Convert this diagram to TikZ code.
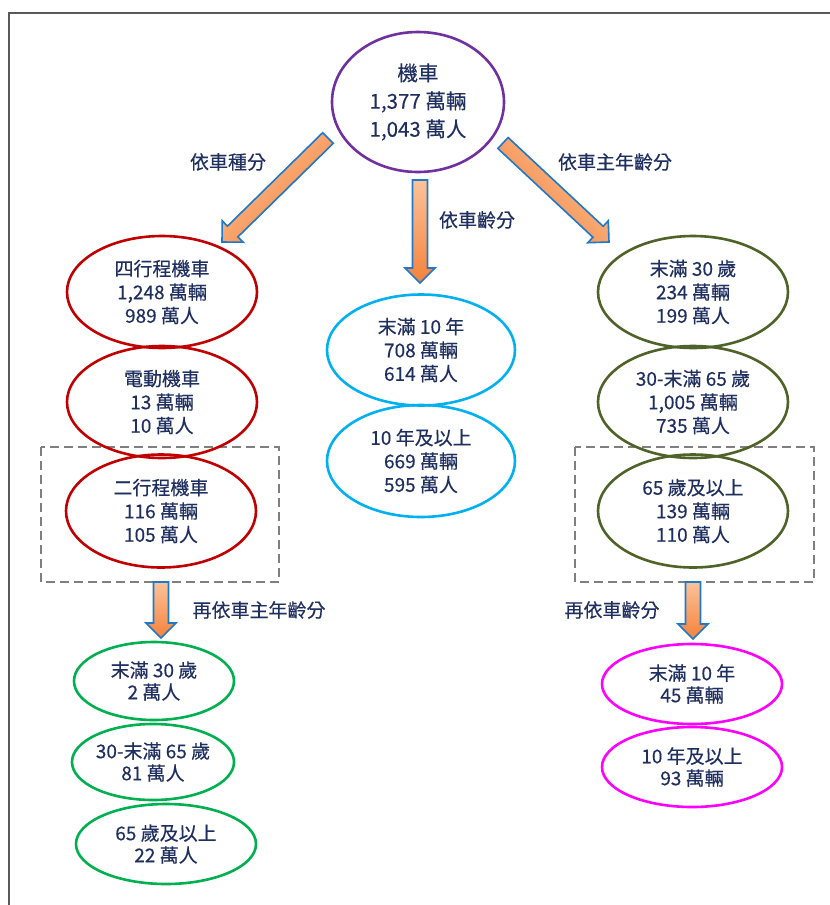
\documentclass[tikz,border=0pt]{standalone}
\usepackage{fontspec}
\setmainfont{Noto Sans CJK TC}
\newfontfamily\cjkm{Noto Sans CJK TC}[FakeBold=0.3]
\usetikzlibrary{shapes.geometric,calc}
\definecolor{txt}{HTML}{1F2F5F}
\definecolor{purplec}{HTML}{7030A0}
\definecolor{redc}{HTML}{C00000}
\definecolor{cyanc}{HTML}{00B0F0}
\definecolor{olivec}{HTML}{4F6228}
\definecolor{greenc}{HTML}{00B050}
\definecolor{magc}{HTML}{FF00FF}
\definecolor{dashc}{HTML}{7F7F7F}
\definecolor{framec}{HTML}{595959}
\definecolor{arrline}{HTML}{1F78C8}
\definecolor{arrlight}{HTML}{FBC29A}
\definecolor{arrdark}{HTML}{F5823A}
\tikzset{
  ell/.style={ellipse, line width=2.6pt, inner sep=0pt, align=center, text=txt,
    font=\cjkm\fontsize{19}{23.5}\selectfont},
  lbl/.style={text=txt, inner sep=0pt, font=\cjkm\fontsize{19}{23}\selectfont},
  fat/.style={draw=arrline, line width=1.6pt, line join=miter, left color=arrlight, right color=arrdark},
  dashbox/.style={draw=dashc, line width=2.6pt, dash pattern=on 9pt off 5pt},
}
\newcommand\fatarrow[4]{%
  \coordinate (#3h) at ($(#2)!15pt!(#1)$);
  \draw[fat, shading angle=#4] ($(#1)!7.5pt!90:(#2)$) -- ($(#3h)!7.5pt!90:(#2)$) -- ($(#3h)!15pt!90:(#2)$)
    -- (#2) -- ($(#3h)!15pt!-90:(#2)$) -- ($(#3h)!7.5pt!-90:(#2)$)
    -- ($(#1)!7.5pt!-90:(#2)$) -- cycle;
}
\begin{document}
\begin{tikzpicture}[x=1pt,y=-1pt]
\useasboundingbox (0,0) rectangle (830,905);
\fill[white] (0,0) rectangle (830,905);
% frame
\draw[framec, line width=1.5pt] (9,905) -- (9,13) -- (830,13);

% dashed boxes
\draw[dashbox] (41,447) rectangle (279,582);
\draw[dashbox] (575,447) rectangle (814,582);

% top
\node[ell, draw=purplec, minimum width=172pt, minimum height=140pt,
  font=\cjkm\fontsize{20.5}{28}\selectfont] (top) at (418,102) {機車\\1,377 萬輛\\1,043 萬人};

% left red
\node[ell, draw=redc, minimum width=190pt, minimum height=112pt] (r1) at (162,292) {四行程機車\\1,248 萬輛\\989 萬人};
\node[ell, draw=redc, minimum width=190pt, minimum height=112pt] (r2) at (162,402) {電動機車\\13 萬輛\\10 萬人};
\node[ell, draw=redc, minimum width=190pt, minimum height=113pt] (r3) at (161,511) {二行程機車\\116 萬輛\\105 萬人};

% middle cyan
\node[ell, draw=cyanc, minimum width=188pt, minimum height=111pt] (c1) at (421,350) {末滿 10 年\\708 萬輛\\614 萬人};
\node[ell, draw=cyanc, minimum width=188pt, minimum height=112pt] (c2) at (421,461) {10 年及以上\\669 萬輛\\595 萬人};

% right olive
\node[ell, draw=olivec, minimum width=190pt, minimum height=112pt] (o1) at (693,292) {末滿 30 歲\\234 萬輛\\199 萬人};
\node[ell, draw=olivec, minimum width=190pt, minimum height=112pt] (o2) at (693,402) {30-末滿 65 歲\\1,005 萬輛\\735 萬人};
\node[ell, draw=olivec, minimum width=190pt, minimum height=113pt] (o3) at (693,511) {65 歲及以上\\139 萬輛\\110 萬人};

% green
\node[ell, draw=greenc, minimum width=160pt, minimum height=78pt, font=\cjkm\fontsize{19}{22}\selectfont] (g1) at (154,681) {末滿 30 歲\\2 萬人};
\node[ell, draw=greenc, minimum width=162pt, minimum height=76pt, font=\cjkm\fontsize{19}{22}\selectfont] (g2) at (153,762) {30-末滿 65 歲\\81 萬人};
\node[ell, draw=greenc, minimum width=180pt, minimum height=80pt, font=\cjkm\fontsize{19}{22}\selectfont] (g3) at (166,844) {65 歲及以上\\22 萬人};

% magenta
\node[ell, draw=magc, minimum width=180pt, minimum height=80pt, font=\cjkm\fontsize{19}{22}\selectfont] (m1) at (692,684) {末滿 10 年\\45 萬輛};
\node[ell, draw=magc, minimum width=180pt, minimum height=80pt, font=\cjkm\fontsize{19}{22}\selectfont] (m2) at (692,767) {10 年及以上\\93 萬輛};

% arrow endpoints
\coordinate (a1s) at (328,138);
\coordinate (a1e) at (222,242);
\coordinate (a2s) at (420,180);
\coordinate (a2e) at (420,283);
\coordinate (a3s) at (503,143);
\coordinate (a3e) at (609,242);
\coordinate (a4s) at (161,582);
\coordinate (a4e) at (161,638);
\coordinate (a5s) at (693,582);
\coordinate (a5e) at (693,639);
\fatarrow{a1s}{a1e}{fa1}{45}
\fatarrow{a2s}{a2e}{fa2}{0}
\fatarrow{a3s}{a3e}{fa3}{-45}
\fatarrow{a4s}{a4e}{fa4}{0}
\fatarrow{a5s}{a5e}{fa5}{0}

% labels
\node[lbl] (l1) at (228,162) {依車種分};
\node[lbl] (l2) at (477,220) {依車齡分};
\node[lbl] (l3) at (615,162) {依車主年齡分};
\node[lbl] (l4) at (259,610) {再依車主年齡分};
\node[lbl] (l5) at (612,610) {再依車齡分};
\end{tikzpicture}
\end{document}
